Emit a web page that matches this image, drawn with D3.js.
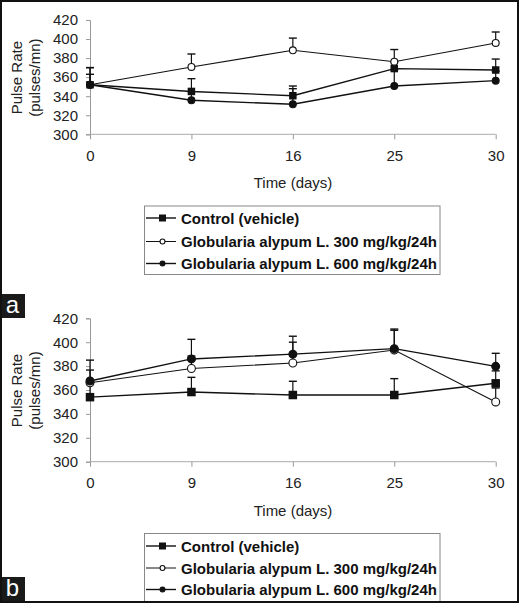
<!DOCTYPE html>
<html><head><meta charset="utf-8">
<script src="https://cdn.jsdelivr.net/npm/d3@7"></script>
<style>
html,body{margin:0;padding:0;background:#fff;}
svg{display:block;font-family:"Liberation Sans",Arial,sans-serif;}
</style></head>
<body><svg id="c" width="519" height="603"></svg>
<script>
// ---- data ----
const days = ["0", "9", "16", "25", "30"];
const yTicks = [300, 320, 340, 360, 380, 400, 420];
const seriesNames = ["Control (vehicle)", "Globularia alypum L. 300 mg/kg/24h", "Globularia alypum L. 600 mg/kg/24h"];

// Panel a
const aControl = [352, 345, 340.5, 369, 367.5];
const aControlErr = [18, 13.4, 10.2, 7, 11.5];
const a300 = [352, 370.7, 388.2, 376.2, 395.9];
const a300Err = [11, 13.6, 12.8, 12.8, 11.5];
const a600 = [352, 335.7, 331.5, 350.7, 356.3];
const a600Err = [18, 9, 16.4, 17, 10];

// Panel b
const bControl = [354, 358.3, 355.8, 355.8, 365.6];
const bControlErr = [13, 12.3, 11.5, 13.7, 10.4];
const b300 = [366, 378, 382.6, 393.5, 350];
const b300Err = [10.7, 10.4, 17.4, 16.5, 11.7];
const b600 = [367.5, 386, 390, 394.6, 379.8];
const b600Err = [17.5, 16.4, 15, 16.4, 10.9];

const svg = d3.select("#c");
const x = d3.scalePoint().domain(days).range([90, 495.7]);

const styles = [
  {shape: "square", fill: "#111"},
  {shape: "circle", fill: "#fff"},
  {shape: "circle", fill: "#111"}
];

function marker(g, st, cx, cy, size) {
  if (st.shape === "square") {
    g.append("rect").attr("x", cx - size/2).attr("y", cy - size/2)
      .attr("width", size).attr("height", size).attr("fill", st.fill);
  } else {
    g.append("circle").attr("cx", cx).attr("cy", cy).attr("r", size/2 - 0.3)
      .attr("fill", st.fill).attr("stroke", "#111").attr("stroke-width", 1.1);
  }
}

function panel(top, bottom, series, msize, titleY, labelY) {
  const y = d3.scaleLinear().domain([300, 420]).range([bottom, top]);
  const g = svg.append("g");
  // y axis
  const ya = g.append("g").attr("transform", "translate(90,0)")
    .call(d3.axisLeft(y).tickValues(yTicks).tickSize(4).tickPadding(8));
  ya.select(".domain").attr("stroke", "#999");
  ya.selectAll(".tick line").attr("stroke", "#999");
  ya.selectAll("text").attr("font-size", 15).attr("fill", "#222")
    .attr("font-family", "Liberation Sans, Arial, sans-serif");
  // x axis
  const xa = g.append("g").attr("transform", `translate(0,${bottom})`)
    .call(d3.axisBottom(x).tickSize(5).tickPadding(11));
  xa.select(".domain").attr("stroke", "#aaa").attr("d", `M90,0H495.7`);
  xa.selectAll(".tick line").attr("stroke", "#999");
  xa.selectAll("text").attr("font-size", 15).attr("fill", "#222")
    .attr("font-family", "Liberation Sans, Arial, sans-serif");
  // titles
  g.append("text").attr("x", 293).attr("y", titleY).attr("text-anchor", "middle")
    .attr("font-size", 15).attr("fill", "#222").text("Time (days)");
  const cy = (top + bottom) / 2 + 0.5;
  g.append("text").attr("transform", `translate(22,${cy}) rotate(-90)`)
    .attr("text-anchor", "middle").attr("font-size", 15).attr("fill", "#222").text("Pulse Rate");
  g.append("text").attr("transform", `translate(40,${cy}) rotate(-90)`)
    .attr("text-anchor", "middle").attr("font-size", 15).attr("fill", "#222").text("(pulses/mn)");
  // lines
  const line = d3.line().x((d, i) => x(days[i])).y(d => y(d));
  series.forEach((s, k) => {
    g.append("path").attr("d", line(s.v)).attr("fill", "none")
      .attr("stroke", "#111").attr("stroke-width", k === 1 ? 1.1 : 1.4);
  });
  // error bars
  series.forEach(s => {
    s.v.forEach((v, i) => {
      const px = x(days[i]);
      g.append("line").attr("x1", px).attr("x2", px).attr("y1", y(v)).attr("y2", y(v + s.e[i]))
        .attr("stroke", "#111").attr("stroke-width", 1.2);
      g.append("line").attr("x1", px - 4).attr("x2", px + 4).attr("y1", y(v + s.e[i])).attr("y2", y(v + s.e[i]))
        .attr("stroke", "#111").attr("stroke-width", 1.4);
    });
  });
  // markers
  series.forEach((s, k) => {
    s.v.forEach((v, i) => marker(g, styles[k], x(days[i]), y(v), msize));
  });
}

function legend(top, rows, h) {
  const g = svg.append("g");
  g.append("rect").attr("x", 144.5).attr("y", top + 0.5).attr("width", 295.5).attr("height", h)
    .attr("fill", "#fff").attr("stroke", "#888").attr("stroke-width", 1);
  seriesNames.forEach((n, k) => {
    const ry = rows[k];
    g.append("line").attr("x1", 146).attr("x2", 176).attr("y1", ry).attr("y2", ry)
      .attr("stroke", "#111").attr("stroke-width", k === 1 ? 1 : 1.4);
    marker(g, styles[k], 162.5, ry, k === 0 ? 7 : 5.5);
    g.append("text").attr("x", 181).attr("y", ry + 5.5).attr("font-size", 15)
      .attr("font-weight", "bold").attr("fill", "#111").text(n);
  });
}

function mk(c, ce, p3, p3e, p6, p6e) {
  return [{v: c, e: ce}, {v: p3, e: p3e}, {v: p6, e: p6e}];
}

panel(20, 134.3, mk(aControl, aControlErr, a300, a300Err, a600, a600Err), 7.5, 188, 0);
legend(205.5, [218, 241.5, 263.5], 68.5);
panel(318.3, 461.7, mk(bControl, bControlErr, b300, b300Err, b600, b600Err), 8.5, 516, 0);
legend(533, [546, 568, 589.5], 80);

// panel labels
function plabel(txt, top) {
  svg.append("rect").attr("x", 0).attr("y", top).attr("width", 25).attr("height", 24).attr("fill", "#1a1a1a");
  svg.append("text").attr("x", 12.5).attr("y", top + 19).attr("text-anchor", "middle")
    .attr("font-size", 24).attr("fill", "#fff").text(txt);
}
plabel("a", 294);
plabel("b", 577);

// frame
svg.append("rect").attr("x", 1).attr("y", 1).attr("width", 517).attr("height", 601)
  .attr("fill", "none").attr("stroke", "#111").attr("stroke-width", 2);
</script></body></html>
